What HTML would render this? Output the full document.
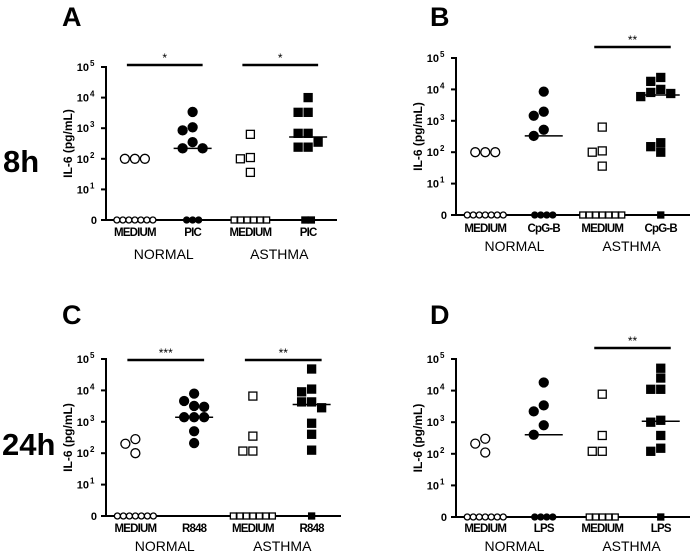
<!DOCTYPE html>
<html><head><meta charset="utf-8"><style>
html,body{margin:0;padding:0;background:#fff;}
svg{display:block;font-family:"Liberation Sans",Arial,sans-serif;}
</style></head><body>
<svg id="fig" width="697" height="554" viewBox="0 0 697 554" xmlns="http://www.w3.org/2000/svg">
<text x="3" y="172" font-size="31" font-weight="bold">8h</text>
<text x="2" y="455" font-size="31" font-weight="bold">24h</text>
</svg>
<script>
// Category / tick labels
const yTickExps = [5,4,3,2,1];
const groupLabels = ["NORMAL","ASTHMA"];
// Panel A (8h, PIC)
const aNormMed = [100,100,100,0,0,0,0,0,0,0];
const aNormStim = [3400,850,1070,350,220,220,0,0,0];
const aAsthMed = [630,100,110,36,0,0,0,0,0,0];
const aAsthStim = [10000,3300,3300,680,680,240,240,350,0,0];
// Panel B (8h, CpG-B)
const bNormMed = [100,100,100,0,0,0,0,0,0,0];
const bNormStim = [8500,1450,1950,520,330,0,0,0,0];
const bAsthMed = [630,100,110,36,0,0,0,0,0,0,0];
const bAsthStim = [24000,18000,10000,8000,5900,7400,150,100,200,0];
// Panel C (24h, R848)
const cNormMed = [200,280,100,0,0,0,0,0,0,0];
const cNormStim = [7900,3200,3000,4600,1400,1400,1400,500,210];
const cAsthMed = [6600,350,117,117,0,0,0,0,0,0,0];
const cAsthStim = [48000,11000,9000,4300,4300,2800,900,400,125,0];
// Panel D (24h, LPS)
const dNormMed = [210,300,110,0,0,0,0,0,0,0];
const dNormStim = [18000,3400,2200,800,400,0,0,0,0];
const dAsthMed = [7700,380,120,120,0,0,0,0,0];
const dAsthStim = [51000,25000,11000,11000,1150,1000,380,150,120,0];
const stimNames = ["PIC","CpG-B","R848","LPS"];
const sigA = ["*","*"], sigB = ["","**"], sigC = ["***","**"], sigD = ["","**"];

const NS="http://www.w3.org/2000/svg";
const svg=document.getElementById('fig');
function mk(tag,attrs,parent){const e=document.createElementNS(NS,tag);for(const k in attrs)e.setAttribute(k,attrs[k]);(parent||svg).appendChild(e);return e;}

const panels=[
 {letter:"A",lx:62,ly:26,ax:106,top:67,zero:220,xEnd:337,labY:236,grpY:259,titleX:72,barY:65,data:[aNormMed,aNormStim,aAsthMed,aAsthStim],stim:stimNames[0],sig:sigA},
 {letter:"B",lx:430,ly:26,ax:456,top:58,zero:215,xEnd:690,labY:232,grpY:251,titleX:422,barY:47,data:[bNormMed,bNormStim,bAsthMed,bAsthStim],stim:stimNames[1],sig:sigB},
 {letter:"C",lx:62,ly:324,ax:106,top:359,zero:516,xEnd:341,labY:532,grpY:551,titleX:72,barY:360,data:[cNormMed,cNormStim,cAsthMed,cAsthStim],stim:stimNames[2],sig:sigC},
 {letter:"D",lx:430,ly:324,ax:456,top:359,zero:517,xEnd:690,labY:532,grpY:551,titleX:422,barY:348,data:[dNormMed,dNormStim,dAsthMed,dAsthStim],stim:stimNames[3],sig:sigD}
];

function median(arr){const s=[...arr].sort((a,b)=>a-b);const n=s.length;return n%2?s[(n-1)/2]:(s[n/2-1]+s[n/2])/2;}

panels.forEach((p,pi)=>{
 const g=mk('g',{});
 
 
 const yS=v=>p.zero-(Math.log10(Math.max(v,1))/5)*(p.zero-p.top);
 const xC=i=>p.ax+(i+0.5)/4*(p.xEnd-p.ax);
 const L=mk('text',{x:p.lx,y:p.ly,'font-size':27,'font-weight':'bold'},g);L.textContent=p.letter;
 
 
 const ya=mk('line',{x1:p.ax,y1:p.top-1,x2:p.ax,y2:p.zero+1,stroke:'#000','stroke-width':2},g);
 
 
 const xa=mk('line',{x1:p.ax-5,y1:p.zero,x2:p.xEnd,y2:p.zero,stroke:'#000','stroke-width':2},g);
 
 
 yTickExps.forEach(e=>{
  const y=yS(Math.pow(10,e));
  mk('line',{x1:p.ax-5,y1:y,x2:p.ax,y2:y,stroke:'#000','stroke-width':2},g);
  const t=mk('text',{x:p.ax-17,y:y+4,'font-size':11,'font-weight':'bold','text-anchor':'end'},g);
  t.textContent='10';
  
  
  const s=mk('text',{x:p.ax-16,y:y-1,'font-size':8,'font-weight':'bold'},g);s.textContent=e;
 });
 const z=mk('text',{x:p.ax-9,y:p.zero+4,'font-size':11,'font-weight':'bold','text-anchor':'end'},g);z.textContent='0';
 
 
 const yc=(p.top+p.zero)/2;
 const tt=mk('text',{x:p.titleX,y:yc,'font-size':12,'font-weight':'bold','text-anchor':'middle',transform:`rotate(-90 ${p.titleX} ${yc})`},g);
 tt.textContent='IL-6 (pg/mL)';
 
 
 ["MEDIUM",p.stim,"MEDIUM",p.stim].forEach((s,i)=>{
  const t=mk('text',{x:xC(i),y:p.labY,'font-size':11.5,'font-weight':'bold','text-anchor':'middle','letter-spacing':'-0.8'},g);
  t.textContent=s;
  
  
 });
 groupLabels.forEach((s,k)=>{
  const t=mk('text',{x:(xC(2*k)+xC(2*k+1))/2,y:p.grpY,'font-size':14,'text-anchor':'middle'},g);
  t.textContent=s;
  
  
 });
 p.sig.forEach((s,k)=>{
  if(!s)return;
  const x1=xC(2*k)-8,x2=xC(2*k+1)+10;
  const b=mk('line',{x1:x1,y1:p.barY,x2:x2,y2:p.barY,stroke:'#000','stroke-width':2.5},g);
  
  
  const t=mk('text',{x:(x1+x2)/2,y:p.barY-3,'font-size':12,'text-anchor':'middle'},g);t.textContent=s;
  
  
 });
 p.data.forEach((arr,i)=>{
  const hollow=(i%2===0), square=(i>=2);
  const cx=xC(i);
  const r=square?4:4.5;
  const nz=arr.filter(v=>v>0).sort((a,b)=>b-a);
  const zeros=arr.filter(v=>v<=0);
  const placed=[];
  const cand=[0,-10,10,-20,20,-30,30];
  nz.forEach(v=>{
   const y=yS(v);
   let x=cx;
   for(const o of cand){
    const tx=cx+o;
    if(!placed.some(q=>Math.hypot(q.x-tx,q.y-y)<2*r+1)){x=tx;break;}
   }
   placed.push({x:x,y:y});
  });
  const sp=square?6.5:6;
  zeros.forEach((v,j)=>placed.push({x:cx+(j-(zeros.length-1)/2)*sp,y:yS(v),zero:true}));
  placed.forEach(pt=>{
   const rr=pt.zero?3:r;
   let m;
   if(square){
    m=mk('rect',{x:pt.x-rr,y:pt.y-rr,width:2*rr,height:2*rr,fill:hollow?'#fff':'#000',stroke:'#000','stroke-width':1.3},g);
   } else {
    m=mk('circle',{cx:pt.x,cy:pt.y,r:rr,fill:hollow?'#fff':'#000',stroke:'#000','stroke-width':1.3},g);
   }
   
   
  });
  const med=median(arr);
  if(med>0){
   const ml=mk('line',{x1:cx-19,y1:yS(med),x2:cx+19,y2:yS(med),stroke:'#000','stroke-width':1.5},g);
   
   
  }
 });
});
</script>
</body></html>
